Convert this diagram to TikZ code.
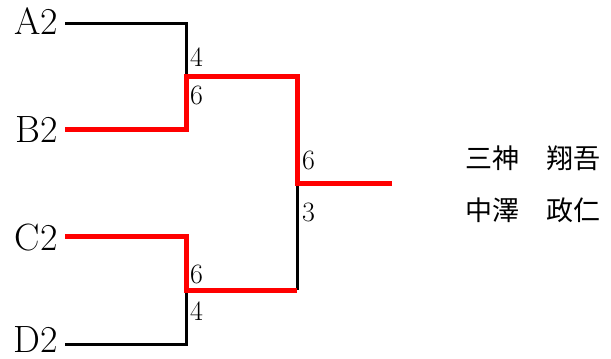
\documentclass[tikz,border=0pt]{standalone}
\usepackage{fontspec}
\newfontfamily\jpfont{Noto Sans CJK JP}
\begin{document}
\begin{tikzpicture}[x=1pt,y=-1pt,
    lost/.style={line width=3pt,black},
    won/.style={line width=5pt,red},
    team/.style={anchor=east,inner sep=0pt,font=\fontsize{38}{40}\selectfont},
    score/.style={anchor=west,inner sep=0pt,font=\fontsize{28}{30}\selectfont},
    player/.style={anchor=west,inner sep=0pt,font=\jpfont\fontsize{27}{30}\selectfont}]
        \useasboundingbox (0,0) rectangle (611,359);
        \node[team] (A2) at (58,21.5) {A2}; \node[team] (B2) at (58,130) {B2};
        \node[team] (C2) at (58,238) {C2}; \node[team] (D2) at (58,340) {D2};
        \coordinate (A2e) at (65,23); \coordinate (B2e) at (65,129);
        \coordinate (C2e) at (65,236); \coordinate (D2e) at (65,344);
        \coordinate (ab) at (186,76); \coordinate (cd) at (186,290); % semifinals
        \coordinate (fin) at (297,183); \coordinate (champ) at (392,183); % final
        \draw[lost] (A2e) -| (ab);
        \draw[lost] (D2e) -| (cd);
        \draw[lost] (cd -| fin) -- (fin);
        \draw[won] (B2e) -| (ab) -| (fin) -- (champ);
        \draw[won] (C2e) -| (cd) -- (cd -| fin);
        \node[score] (sA) at (190,57) {4}; \node[score] (sB) at (190,95) {6};
        \node[score] (sC) at (190,274) {6}; \node[score] (sD) at (190,311) {4};
        \node[score] (sab) at (302,160) {6}; \node[score] (scd) at (302,212) {3};
        \node[player] (p1) at (465,158) {三神　翔吾};
        \node[player] (p2) at (465,210) {中澤　政仁};
    \end{tikzpicture}
\end{document}
